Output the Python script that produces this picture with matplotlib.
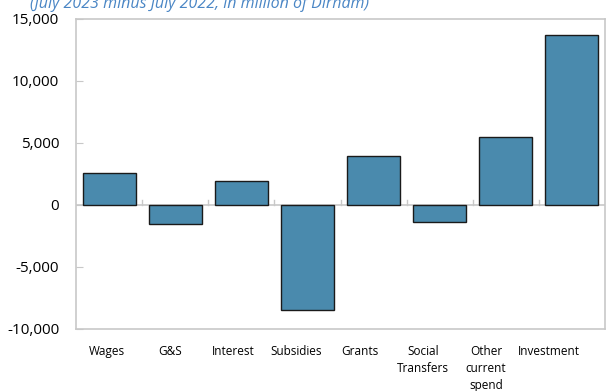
import matplotlib

matplotlib.use("Agg")
import matplotlib.pyplot as plt
from matplotlib.ticker import FuncFormatter

categories = ["Wages", "G&S", "Interest", "Subsidies", "Grants",
              "Social\nTransfers", "Other\ncurrent\nspend", "Investment"]
changes = [2600, -1500, 1900, -8500, 3950, -1400, 5450, 13700]
y_ticks = [-10000, -5000, 0, 5000, 10000, 15000]
subtitle = "(July 2023 minus July 2022, in million of Dirham)"

plt.rcParams["font.family"] = ["Open Sans", "DejaVu Sans"]

fig = plt.figure(figsize=(6.06, 3.91), dpi=100)
ax = fig.add_axes([76 / 606, 62 / 391, 529 / 606, 310 / 391])

x = list(range(len(categories)))
ax.bar(x, changes, width=0.8, color="#4a8aad", edgecolor="#1a1a1a",
       linewidth=1.0, zorder=2)
ax.axhline(0, color="#c8c8c8", linewidth=1.2, zorder=1)

ax.set_xlim(-0.5, len(categories) - 0.5)
ax.set_ylim(-10000, 15000)
ax.set_yticks(y_ticks)
ax.yaxis.set_major_formatter(FuncFormatter(lambda v, _: f"{v:,.0f}"))

# category labels sit on a slightly tighter spacing than the bars
label_pos = [i - 0.03 - 0.045 * i for i in x]
ax.set_xticks(label_pos)
ax.set_xticklabels(categories, fontsize=8.5, va="top", linespacing=1.4)
ax.tick_params(axis="x", length=0, pad=11.5)
ax.tick_params(axis="y", labelsize=11, length=5, direction="in",
               color="#c8c8c8", pad=12)

# small marks on the zero line between categories
for b in [i + 0.5 for i in x[:-1]]:
    ax.plot([b, b], [0, 380], color="#c8c8c8", linewidth=1.0, zorder=1)

for spine in ax.spines.values():
    spine.set_color("#c8c8c8")
    spine.set_linewidth(1.2)

fig.text(30 / 606, 1 - 8 / 391, subtitle, color="#4a86c5", fontsize=11.5,
         style="italic", ha="left", va="baseline")

fig.savefig("out.png", dpi=100)
